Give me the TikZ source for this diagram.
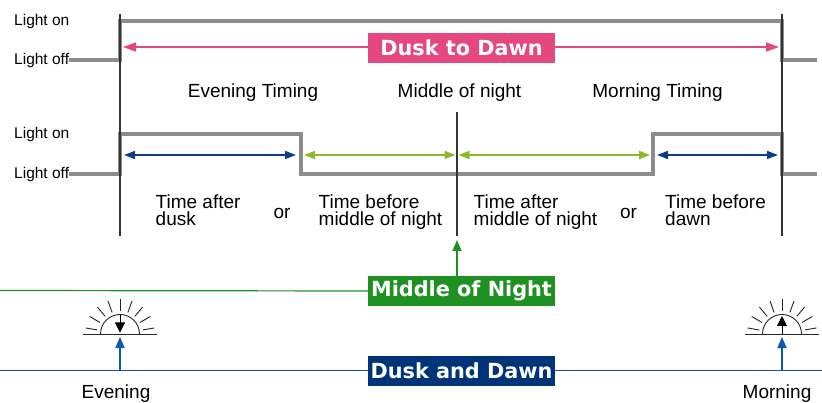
\documentclass[tikz,border=0pt]{standalone}
\usepackage{fontspec}
\setmainfont{Liberation Sans}
\newfontfamily\boxfont{DejaVu Sans}
\usetikzlibrary{arrows.meta}
\definecolor{sigGray}{HTML}{8C8C8C}
\definecolor{pinkc}{HTML}{E4487F}
\definecolor{navybox}{HTML}{003478}
\definecolor{navyarr}{HTML}{0E3D86}
\definecolor{limec}{HTML}{8CB82B}
\definecolor{greenbox}{HTML}{1F9123}
\definecolor{blueline}{HTML}{1A4E98}
\definecolor{bluearr}{HTML}{0C5BAA}
\tikzset{
  sig/.style={line width=3.3pt, draw=sigGray, line join=miter},
  guide/.style={line width=1.1pt, draw=black!80},
  lbl/.style={font=\fontsize{15.5}{17}\selectfont, anchor=west, inner sep=0pt},
  txt/.style={font=\fontsize{19}{17.5}\selectfont, align=left, inner sep=0pt},
  banner/.style={minimum width=187pt, minimum height=30pt, inner sep=0pt, text=white,
    font=\boxfont\bfseries\fontsize{20.8}{21}\selectfont},
  dbl/.style={line width=1.6pt, {Triangle[length=11pt,width=8pt]}-{Triangle[length=11pt,width=8pt]}},
  uparr/.style={line width=1.6pt, -{Triangle[length=11pt,width=9pt]}},
  sunrays/.style={line width=0.9pt, draw=black!85},
  sunicon/.pic={
    \draw[sunrays] (-37,0) -- (37,0);
    \draw[sunrays] (-19.5,0) arc[start angle=180, end angle=360, radius=19.5];
    \foreach \a in {190,210,...,350} \draw[sunrays] (\a:23) -- (\a:35);
  },
}
\begin{document}
\begin{tikzpicture}[x=1pt,y=-1pt]
\useasboundingbox[fill=white] (0,0) rectangle (822,403);

% ---- level labels
\node[lbl] (on1) at (14,21) {Light on};
\node[lbl] (off1) at (14,60) {Light off};
\node[lbl] (on2) at (14,134) {Light on};
\node[lbl] (off2) at (14,174) {Light off};

% ---- signal 1
\coordinate (s1b) at (120,60);
\coordinate (s1c) at (120,21);
\coordinate (s1d) at (782,21);
\coordinate (s1e) at (782,60);
\coordinate (s1f) at (817,60);
\draw[sig] (off1.east) -- (s1b) -- (s1c) -- (s1d) -- (s1e) -- (s1f);

% ---- signal 2
\coordinate (s2b) at (120,174);
\coordinate (s2c) at (120,134);
\coordinate (s2d) at (301,134);
\coordinate (s2e) at (301,174);
\coordinate (s2f) at (653,174);
\coordinate (s2g) at (653,134);
\coordinate (s2h) at (782,134);
\coordinate (s2i) at (782,174);
\coordinate (s2j) at (817,174);
\draw[sig] (off2.east) -- (s2b) -- (s2c) -- (s2d) -- (s2e) -- (s2f) -- (s2g) -- (s2h) -- (s2i) -- (s2j);

% ---- guide lines
\coordinate (gLt) at (120,14);
\coordinate (gLb) at (120,236);
\coordinate (gRt) at (782,14);
\coordinate (gRb) at (782,236);
\coordinate (gMt) at (457,112);
\coordinate (gMb) at (457,236);
\draw[guide] (gLt) -- (gLb);
\draw[guide] (gRt) -- (gRb);
\draw[guide] (gMt) -- (gMb);

% ---- dusk to dawn
\coordinate (pa) at (123,47);
\coordinate (pb) at (779,47);
\draw[dbl, pinkc, {Triangle[length=13pt,width=9pt]}-{Triangle[length=13pt,width=9pt]}] (pa) -- (pb);
\node[banner, fill=pinkc] (dtd) at (461.5,48) {Dusk to Dawn};

% ---- timing labels
\node[txt] (evt) at (253,93) {Evening Timing};
\node[txt] (mnt) at (459.5,93) {Middle of night};
\node[txt] (mot) at (657.5,93) {Morning Timing};

% ---- interval arrows
\coordinate (a1) at (124,155); \coordinate (a2) at (296,155);
\coordinate (a3) at (304,155); \coordinate (a4) at (455.5,155);
\coordinate (a5) at (458.5,155); \coordinate (a6) at (650,155);
\coordinate (a7) at (657,155); \coordinate (a8) at (778,155);
\draw[dbl, navyarr] (a1) -- (a2);
\draw[dbl, limec] (a3) -- (a4);
\draw[dbl, limec] (a5) -- (a6);
\draw[dbl, navyarr] (a7) -- (a8);

% ---- interval texts
\node[txt, anchor=north west] (t1) at (155.5,194.5) {Time after\\dusk};
\node[txt] (or1) at (282,213) {or};
\node[txt, anchor=north west] (t2) at (318.5,194.5) {Time before\\middle of night};
\node[txt, anchor=north west] (t3) at (473.5,194.5) {Time after\\middle of night};
\node[txt] (or2) at (628.5,213) {or};
\node[txt, anchor=north west] (t4) at (665,194.5) {Time before\\dawn};

% ---- middle of night
\coordinate (g0) at (0,290.5);
\node[banner, fill=greenbox] (mnb) at (461.5,291) {Middle of Night};
\draw[greenbox, line width=1.2pt] (g0) -- (mnb.west);
\coordinate (gtip) at (457,240);
\draw[uparr, greenbox] (mnb.north -| gtip) -- (gtip);

% ---- dusk and dawn
\coordinate (b0) at (0,370.5);
\coordinate (b1) at (822,370.5);
\draw[blueline, line width=1.2pt] (b0) -- (b1);
\node[banner, fill=navybox] (ddb) at (461.5,371) {Dusk and Dawn};

% ---- suns
\pic (sunE) at (120,334) {sunicon};
\pic (sunM) at (782,334) {sunicon};
\coordinate (sEt) at (120,315.5);
\coordinate (sEb) at (120,332.5);
\draw[line width=0.9pt, black, -{Triangle[length=10pt,width=10pt]}] (sEt) -- (sEb);
\coordinate (sMt) at (782,316);
\coordinate (sMb) at (782,334);
\draw[line width=0.9pt, black, -{Triangle[length=10pt,width=10pt]}] (sMb) -- (sMt);

\coordinate (eTip) at (120,337);
\coordinate (mTip) at (782,337);
\draw[uparr, bluearr] (b0 -| eTip) -- (eTip);
\draw[uparr, bluearr] (b0 -| mTip) -- (mTip);

\node[txt] (evl) at (116,393.5) {Evening};
\node[txt] (mol) at (777,393.5) {Morning};
\end{tikzpicture}
\end{document}
